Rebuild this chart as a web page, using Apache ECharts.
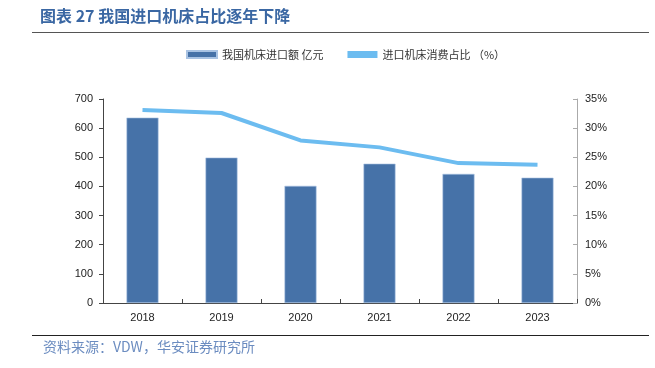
<!DOCTYPE html>
<html><head><meta charset="utf-8">
<script src="https://cdn.jsdelivr.net/npm/echarts@6/dist/echarts.min.js"></script>
<style>html,body{margin:0;padding:0;background:#fff}#c{width:655px;height:368px}</style>
</head><body><div id="c"></div>
<script>
var categories = ['2018','2019','2020','2021','2022','2023'];
var importValues = [636, 499, 402, 478, 443, 430];
var importShare = [33.1, 32.6, 27.9, 26.7, 24.0, 23.7];
var leftTicks = [0, 100, 200, 300, 400, 500, 600, 700];
var rightTicks = [0, 5, 10, 15, 20, 25, 30, 35];
var seriesNames = ['我国机床进口额 亿元', '进口机床消费占比 （%）'];
var titleText = '图表 27 我国进口机床占比逐年下降';
var sourceText = '资料来源：VDW，华安证券研究所';

var chart = echarts.init(document.getElementById('c'), null, {renderer:'canvas'});
var font = 'Liberation Sans, Arial, Noto Sans CJK SC, sans-serif';
chart.setOption({
  animation: false,
  textStyle: {fontFamily: font},
  graphic: [
    {type:'text', left: 40, top: 8, style:{text: titleText, fill:'#3a67a3', font:'bold 16px "Noto Sans CJK SC", sans-serif'}},
    {type:'line', shape:{x1:32, y1:32.5, x2:649, y2:32.5}, style:{stroke:'#555', lineWidth:1.2}},
    {type:'line', shape:{x1:32, y1:335.5, x2:649, y2:335.5}, style:{stroke:'#222', lineWidth:1.2}},
    {type:'text', left: 43, top: 340, style:{text: sourceText, fill:'#6b8cc0', font:'14px "Noto Sans CJK SC", sans-serif'}}
  ],
  legend: {
    top: 44, left: 181,
    itemGap: 24,
    itemWidth: 30, itemHeight: 7,
    textStyle: {fontSize: 11, color:'#333', fontFamily:'"Noto Sans CJK SC", sans-serif'},
    data: [
      {name: seriesNames[0], icon:'rect'},
      {name: seriesNames[1], icon:'rect', itemStyle:{color:'#6cbcf0'}}
    ]
  },
  grid: {left: 103, right: 78, top: 99, bottom: 65},
  xAxis: {
    type:'category', data: categories,
    axisLine:{lineStyle:{color:'#444', width:1}},
    axisTick:{show:true, inside:true, length:4, lineStyle:{color:'#444'}},
    axisLabel:{color:'#222', fontSize:11, margin:9}
  },
  yAxis: [
    {type:'value', min:0, max:700, interval:100,
     axisLine:{show:true, lineStyle:{color:'#444'}},
     axisTick:{show:true, length:4, lineStyle:{color:'#444'}},
     splitLine:{show:false},
     axisLabel:{color:'#222', fontSize:11, margin:10}},
    {type:'value', min:0, max:35, interval:5,
     axisLine:{show:true, lineStyle:{color:'#aaa'}},
     axisTick:{show:true, inside:true, length:4, lineStyle:{color:'#aaa'}},
     splitLine:{show:false},
     axisLabel:{color:'#222', fontSize:11, margin:8, formatter:'{value}%'}}
  ],
  series: [
    {name: seriesNames[0], type:'bar', data: importValues, barWidth:32,
     itemStyle:{color:'#4672a8', borderColor:'#a9c3e3', borderWidth:0.6}},
    {name: seriesNames[1], type:'line', yAxisIndex:1, data: importShare,
     symbol:'none', lineStyle:{color:'#6cbcf0', width:4}, itemStyle:{color:'#6cbcf0'}}
  ]
});
</script></body></html>
